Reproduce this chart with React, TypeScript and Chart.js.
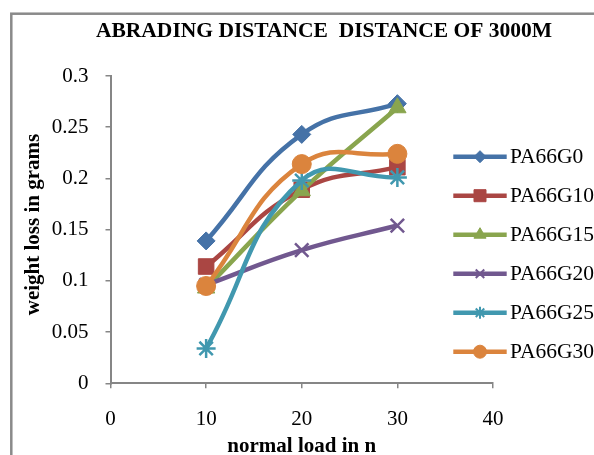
import React, { useEffect, useRef } from "react";
import { Chart, registerables } from "chart.js";
import { drawPoint } from "chart.js/helpers";

Chart.register(...registerables);

const chartTitle = "ABRADING DISTANCE  DISTANCE OF 3000M";
const xTitle = "normal load in n";
const yTitle = "weight loss in grams";

const loads = [10, 20, 30];
const seriesNames = ["PA66G0", "PA66G10", "PA66G15", "PA66G20", "PA66G25", "PA66G30"];
const g0 = [0.139, 0.243, 0.273];
const g10 = [0.114, 0.189, 0.211];
const g15 = [0.093, 0.188, 0.269];
const g20 = [0.096, 0.130, 0.154];
const g25 = [0.034, 0.198, 0.201];
const g30 = [0.095, 0.214, 0.224];
const seriesValues = [g0, g10, g15, g20, g25, g30];

const seriesColors = ["#4572A7", "#AA4643", "#89A54E", "#71588F", "#4198AF", "#DB843D"];
const seriesMarkers = ["rectRot", "rect", "triangle", "crossRot", "star", "circle"];
const markerRadius = [9, 11, 10, 9.5, 9.5, 9.5];
const legendRadius = [6, 8.5, 7, 6, 6, 6.5];

const xTickLabels = ["0", "10", "20", "30", "40"];
const yTickLabels = ["0", "0.05", "0.1", "0.15", "0.2", "0.25", "0.3"];

const FONT = "'Liberation Serif', 'Times New Roman', serif";
const AXIS_GREY = "#868686";

const decorPlugin = {
  id: "decor",
  beforeDraw(chart: any) {
    const ctx = chart.ctx;
    ctx.save();
    ctx.fillStyle = "#ffffff";
    ctx.fillRect(0, 0, chart.width, chart.height);
    ctx.strokeStyle = "#8a8a8a";
    ctx.lineWidth = 2.5;
    ctx.strokeRect(11.3, 13.7, 800, 800);
    ctx.restore();
  },
  afterDraw(chart: any) {
    const ctx = chart.ctx;
    const area = chart.chartArea;
    ctx.save();
    ctx.fillStyle = "#000000";
    // chart title
    ctx.font = `bold 21.5px ${FONT}`;
    ctx.textAlign = "center";
    ctx.textBaseline = "alphabetic";
    ctx.fillText(chartTitle, 324, 37);
    // x title
    ctx.font = `bold 21px ${FONT}`;
    ctx.fillText(xTitle, (area.left + area.right) / 2, 451.5);
    // y title
    ctx.save();
    ctx.translate(38.5, 224.5);
    ctx.rotate(-Math.PI / 2);
    ctx.textAlign = "center";
    ctx.textBaseline = "alphabetic";
    ctx.fillText(yTitle, 0, 0);
    ctx.restore();

    // legend
    const x0 = 453.3;
    const x1 = 506.7;
    for (let i = 0; i < seriesNames.length; i++) {
      const y = 156.7 + 39 * i;
      ctx.strokeStyle = seriesColors[i];
      ctx.lineWidth = 4.5;
      ctx.lineCap = "butt";
      ctx.beginPath();
      ctx.moveTo(x0, y);
      ctx.lineTo(x1, y);
      ctx.stroke();
      ctx.fillStyle = seriesColors[i];
      ctx.strokeStyle = seriesColors[i];
      ctx.lineWidth = seriesMarkers[i] === "crossRot" || seriesMarkers[i] === "star" ? 2 : 1;
      drawPoint(ctx, { pointStyle: seriesMarkers[i], radius: legendRadius[i], rotation: 0, borderWidth: ctx.lineWidth } as any, (x0 + x1) / 2, y);
      ctx.fillStyle = "#000000";
      ctx.font = `21.5px ${FONT}`;
      ctx.textAlign = "left";
      ctx.textBaseline = "middle";
      ctx.fillText(seriesNames[i], 510, y + 1);
    }
    ctx.restore();
  },
};

export default function App() {
  const canvasRef = useRef<HTMLCanvasElement | null>(null);

  useEffect(() => {
    const canvas = canvasRef.current;
    if (!canvas) return;
    const datasets = seriesNames.map((name, i) => ({
      label: name,
      data: loads.map((x, j) => ({ x, y: seriesValues[i][j] })),
      borderColor: seriesColors[i],
      backgroundColor: seriesColors[i],
      borderWidth: 4.5,
      tension: 0.45,
      pointStyle: seriesMarkers[i],
      pointRadius: markerRadius[i],
      pointBorderWidth: seriesMarkers[i] === "crossRot" || seriesMarkers[i] === "star" ? 2.5 : 1,
      pointBackgroundColor: seriesColors[i],
      pointBorderColor: seriesColors[i],
      order: seriesNames.length - i,
      fill: false,
    }));

    const chart = new Chart(canvas, {
      type: "line",
      data: { datasets },
      plugins: [decorPlugin],
      options: {
        animation: false,
        responsive: false,
        devicePixelRatio: 1,
        layout: { padding: { left: 0, right: 101, top: 76, bottom: 0 } },
        plugins: {
          legend: { display: false },
          title: { display: false },
          tooltip: { enabled: false },
        },
        scales: {
          x: {
            type: "linear",
            min: 0,
            max: 40,
            afterFit: (scale: any) => {
              scale.height = 71.7;
            },
            ticks: {
              stepSize: 10,
              color: "#000000",
              font: { family: FONT, size: 21 },
              padding: 19,
              maxRotation: 0,
              callback: (_v: any, idx: number) => xTickLabels[idx],
            },
            grid: {
              display: true,
              drawOnChartArea: false,
              drawTicks: true,
              tickLength: 5,
              color: AXIS_GREY,
              lineWidth: 1.5,
            },
            border: { display: true, color: AXIS_GREY, width: 2 },
          },
          y: {
            type: "linear",
            min: 0,
            max: 0.3,
            afterFit: (scale: any) => {
              scale.width = 110.5;
            },
            ticks: {
              stepSize: 0.05,
              color: "#000000",
              font: { family: FONT, size: 21 },
              padding: 17,
              callback: (_v: any, idx: number) => yTickLabels[idx],
            },
            grid: {
              display: true,
              drawOnChartArea: false,
              drawTicks: true,
              tickLength: 5,
              color: AXIS_GREY,
              lineWidth: 1.5,
            },
            border: { display: true, color: AXIS_GREY, width: 2 },
          },
        },
      },
    } as any);

    return () => chart.destroy();
  }, []);

  return (
    <div style={{ position: "fixed", left: 0, top: 0, width: 594, height: 455, background: "#fff", overflow: "hidden" }}>
      <canvas ref={canvasRef} width={594} height={455} style={{ width: 594, height: 455, display: "block" }} />
    </div>
  );
}
